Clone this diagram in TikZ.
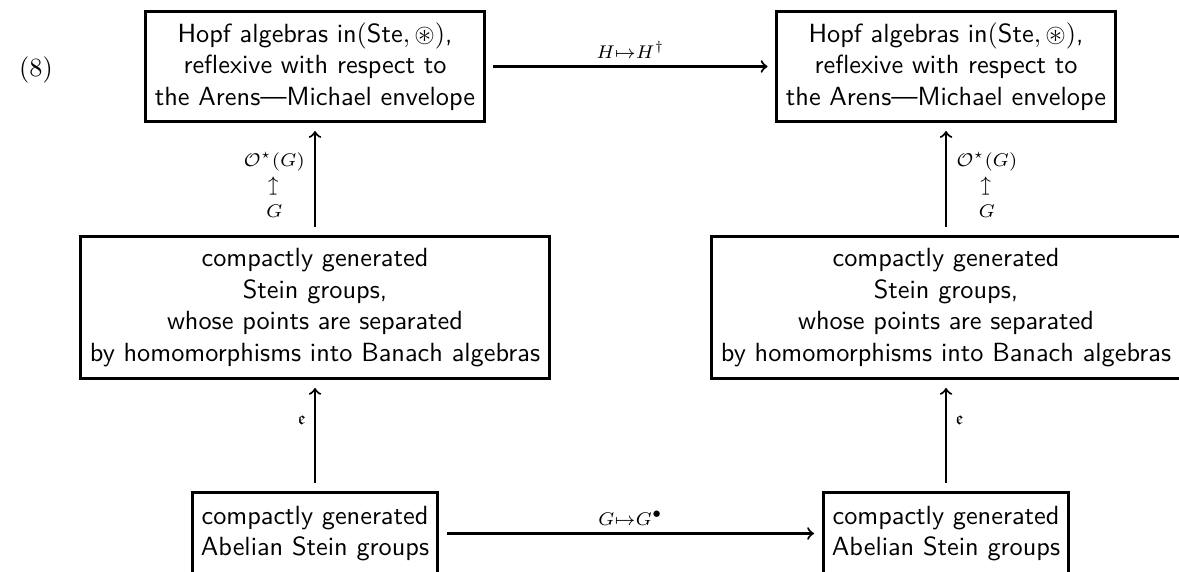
\documentclass[tikz,border=0pt]{standalone}
\usepackage{amsmath,amssymb}
\usepackage{graphicx}
\newcommand{\upmapsto}{\rotatebox[origin=c]{90}{$\scriptstyle\mapsto$}}
\begin{document}
\begin{tikzpicture}[x=0.3802pt,y=-0.3802pt,
  box/.style={draw, line width=1.1pt, align=center, font=\sffamily, inner xsep=3pt, inner ysep=0pt},
  arr/.style={->, line width=0.8pt, shorten <=3pt, shorten >=3pt},
  lbl/.style={inner sep=0pt, font=\fontsize{10pt}{9pt}\selectfont, align=center}]
\useasboundingbox (0,0) rectangle (1179,572);
\node (eq) at (36,70) {(8)};
\node[box, minimum width=128.6pt, minimum height=42pt] (tl) at (315,66.5)
  {Hopf algebras in$(\text{Ste},\circledast)$,\\ reflexive with respect to\\ the Arens---Michael envelope};
\node[box, minimum width=128.6pt, minimum height=42pt] (tr) at (946,66.5)
  {Hopf algebras in$(\text{Ste},\circledast)$,\\ reflexive with respect to\\ the Arens---Michael envelope};
\node[box, minimum width=178.4pt, minimum height=54.1pt] (ml) at (315,307.5)
  {compactly generated\\ Stein groups,\\ whose points are separated\\ by homomorphisms into Banach algebras};
\node[box, minimum width=178.4pt, minimum height=54.1pt] (mr) at (946,307.5)
  {compactly generated\\ Stein groups,\\ whose points are separated\\ by homomorphisms into Banach algebras};
\node[box, minimum width=93.3pt, minimum height=31.4pt] (bl) at (315,533.5)
  {compactly generated\\ Abelian Stein groups};
\node[box, minimum width=93.3pt, minimum height=31.4pt] (br) at (946,533.5)
  {compactly generated\\ Abelian Stein groups};
\draw[arr] (tl) -- node[above, inner sep=2.5pt] {$\scriptstyle H\mapsto H^\dagger$} (tr);
\draw[arr] (bl) -- node[above, inner sep=2.5pt] {$\scriptstyle G\mapsto G^\bullet$} (br);
\draw[arr] (ml) -- node[lbl, pos=0.45, left=3.5pt] {$\scriptstyle\mathcal{O}^\star(G)$\\ \upmapsto\\[1.5pt] $\scriptstyle G$} (tl);
\draw[arr] (mr) -- node[lbl, pos=0.45, right=3.5pt] {$\scriptstyle\mathcal{O}^\star(G)$\\ \upmapsto\\[1.5pt] $\scriptstyle G$} (tr);
\draw[arr] (bl) -- node[lbl, pos=0.64, left=3pt] {$\scriptstyle\mathfrak{e}$} (ml);
\draw[arr] (br) -- node[lbl, pos=0.64, right=3pt] {$\scriptstyle\mathfrak{e}$} (mr);
\end{tikzpicture}
\end{document}
